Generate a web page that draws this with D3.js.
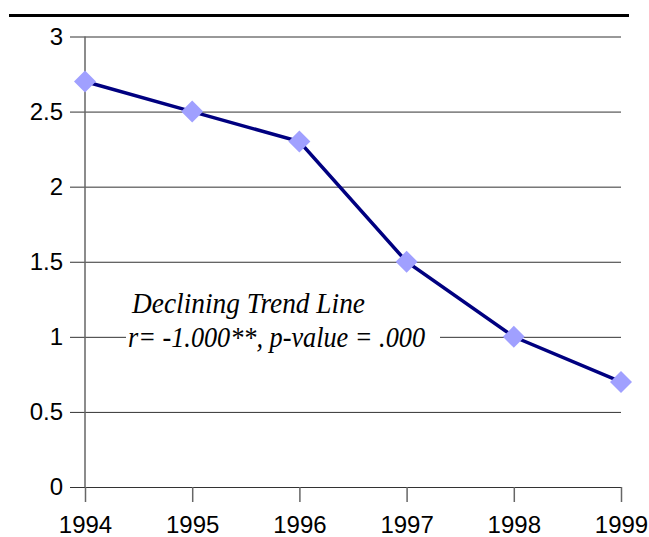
<!DOCTYPE html>
<html>
<head>
<meta charset="utf-8">
<script src="https://cdn.jsdelivr.net/npm/d3@7"></script>
<style>
  body { margin: 0; background: #fff; }
  svg { display: block; }
</style>
</head>
<body>
<div id="chart"></div>
<script>
const years = ["1994", "1995", "1996", "1997", "1998", "1999"];
const values = [2.7, 2.5, 2.3, 1.5, 1.0, 0.7];
const yTicks = [0, 0.5, 1, 1.5, 2, 2.5, 3];
const noteLines = ["Declining Trend Line", "r= -1.000**, p-value = .000"];

const W = 649, H = 537;
const plotLeft = 85, plotRight = 621, plotTop = 36.5, plotBottom = 487;

const svg = d3.select("#chart").append("svg")
  .attr("width", W)
  .attr("height", H);

// thick rule above the chart
svg.append("line")
  .attr("x1", 9).attr("x2", 629)
  .attr("y1", 15.5).attr("y2", 15.5)
  .attr("stroke", "#000")
  .attr("stroke-width", 3);

const x = d3.scalePoint()
  .domain(years)
  .range([plotLeft, plotRight]);

const y = d3.scaleLinear()
  .domain([0, 3])
  .range([plotBottom, plotTop]);

// gridlines + y ticks + labels in one axis, anchored on the right edge
const yAxis = svg.append("g")
  .attr("transform", "translate(" + plotRight + ",0)")
  .call(d3.axisLeft(y)
    .tickValues(yTicks)
    .tickFormat(d => String(d))
    .tickSize(plotRight - plotLeft + 15)
    .tickPadding(7));
yAxis.select(".domain").remove();
yAxis.selectAll("line").attr("stroke", "#333").attr("stroke-width", 1);
yAxis.selectAll("text")
  .attr("font-family", "Liberation Sans, Arial, sans-serif")
  .attr("font-size", 24)
  .attr("fill", "#000");

// vertical axis line
svg.append("line")
  .attr("x1", plotLeft).attr("x2", plotLeft)
  .attr("y1", y(3)).attr("y2", y(0))
  .attr("stroke", "#666")
  .attr("stroke-width", 1.5);

const xAxis = svg.append("g")
  .attr("transform", "translate(0," + plotBottom + ")")
  .call(d3.axisBottom(x).tickSize(15).tickPadding(14));
xAxis.select(".domain").remove();
xAxis.selectAll("line").attr("stroke", "#666").attr("stroke-width", 1.5);
xAxis.selectAll("text")
  .attr("font-family", "Liberation Sans, Arial, sans-serif")
  .attr("font-size", 24)
  .attr("fill", "#000");

// note box (white, hides gridline behind it)
svg.append("rect")
  .attr("x", 126).attr("y", 290)
  .attr("width", 314).attr("height", 68)
  .attr("fill", "#fff");

svg.append("g").selectAll("text")
  .data(noteLines)
  .enter()
  .append("text")
  .attr("x", (d, i) => i === 0 ? 132 : 128)
  .attr("y", (d, i) => i === 0 ? 313 : 347)
  .attr("textLength", (d, i) => i === 0 ? 233 : 297)
  .attr("lengthAdjust", "spacingAndGlyphs")
  .attr("font-family", "Liberation Serif, Times New Roman, serif")
  .attr("font-style", "italic")
  .attr("font-size", 29)
  .attr("fill", "#000")
  .text(d => d);

const line = d3.line()
  .x((d, i) => x(years[i]))
  .y(d => y(d));

svg.append("path")
  .datum(values)
  .attr("fill", "none")
  .attr("stroke", "#000080")
  .attr("stroke-width", 3.5)
  .attr("d", line);

svg.selectAll(".pt")
  .data(values)
  .enter()
  .append("path")
  .attr("class", "pt")
  .attr("transform", (d, i) => "translate(" + x(years[i]) + "," + y(d) + ")")
  .attr("d", "M0,-11L11,0L0,11L-11,0Z")
  .attr("fill", "#a0a0ff");
</script>
</body>
</html>
